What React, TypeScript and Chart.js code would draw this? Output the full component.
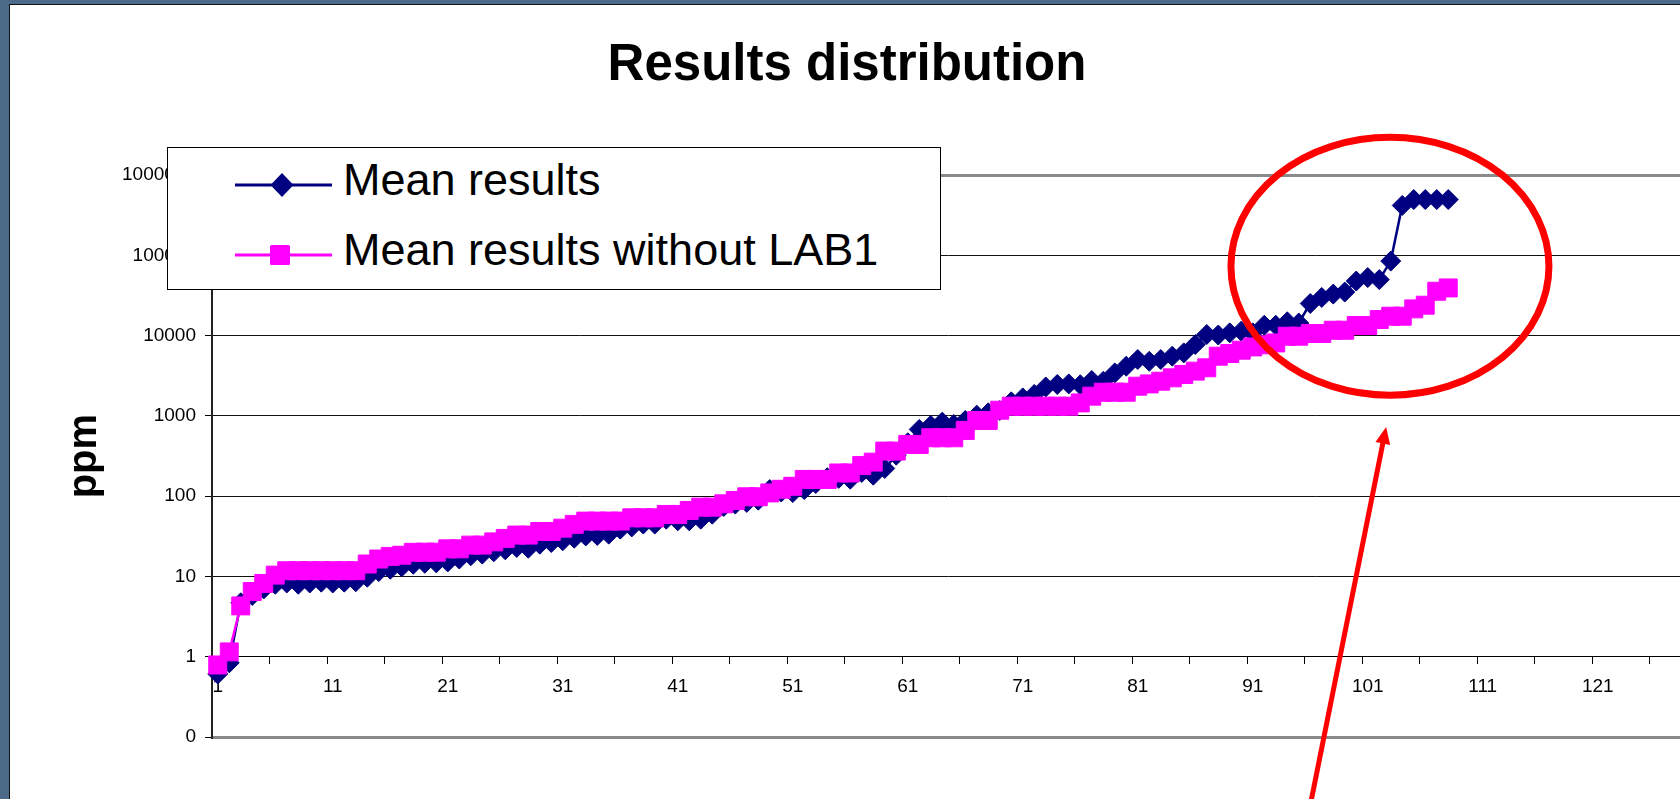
import React, { useEffect, useRef } from "react";
import { Chart, registerables } from "chart.js";

Chart.register(...registerables);

// ---------- data ----------
const categories = [
  1, 2, 3, 4, 5, 6, 7, 8, 9, 10, 11, 12, 13, 14, 15, 16, 17, 18, 19, 20,
  21, 22, 23, 24, 25, 26, 27, 28, 29, 30, 31, 32, 33, 34, 35, 36, 37, 38, 39, 40,
  41, 42, 43, 44, 45, 46, 47, 48, 49, 50, 51, 52, 53, 54, 55, 56, 57, 58, 59, 60,
  61, 62, 63, 64, 65, 66, 67, 68, 69, 70, 71, 72, 73, 74, 75, 76, 77, 78, 79, 80,
  81, 82, 83, 84, 85, 86, 87, 88, 89, 90, 91, 92, 93, 94, 95, 96, 97, 98, 99, 100,
  101, 102, 103, 104, 105, 106, 107, 108, 109, 110, 111, 112, 113, 114, 115, 116,
  117, 118, 119, 120, 121, 122, 123, 124, 125, 126, 127, 128,
];

const meanResults = [
  0.61, 0.84, 4.7, 5.8, 7.0, 8.0, 8.3, 8.0, 8.3, 8.5,
  8.3, 8.5, 8.6, 9.8, 11.5, 12.3, 13.2, 14.2, 14.6, 14.8,
  15.2, 16.5, 18.1, 19.0, 20.3, 21.5, 23.0, 22.5, 25.3, 26.5,
  27.9, 30.0, 32.0, 32.5, 33.7, 38.9, 41.5, 45, 45, 51.8,
  49.4, 49.4, 51.8, 59.8, 74.6, 79.8, 83.8, 89.3, 121, 113,
  111, 121, 144, 170, 167, 163, 198, 183, 222, 325,
  463, 680, 762, 838, 783, 879, 1023, 1094, 1170, 1500,
  1680, 1855, 2300, 2470, 2510, 2450, 2770, 2700, 3440, 4170,
  5050, 4800, 5050, 5560, 6110, 7760, 10350, 10200, 10850, 11400,
  10850, 13500, 13500, 14900, 14400, 25200, 30000, 33000, 35000, 48000,
  53000, 50000, 85000, 420000, 497000, 497000, 497000, 497000,
];

const meanResultsWithoutLab1 = [
  0.79, 1.15, 4.3, 6.5, 8.2, 10.4, 11.8, 11.8, 11.8, 11.8,
  11.8, 11.8, 11.8, 14.3, 16.5, 17.8, 18.4, 20, 20.1, 20.1,
  22.1, 22.1, 24.6, 24.6, 27, 29.8, 32.8, 32.8, 36.4, 36.4,
  40, 44.6, 49, 49, 49, 49, 53.8, 53.8, 53.8, 59.3,
  59.3, 66.5, 73.1, 73.1, 80.4, 88.6, 98.4, 98.4, 110, 122,
  133, 162, 162, 162, 195, 195, 241, 266, 365, 365,
  442, 442, 535, 535, 535, 660, 879, 879, 1180, 1324,
  1324, 1324, 1324, 1324, 1324, 1455, 1766, 1978, 1978, 1978,
  2350, 2510, 2710, 2985, 3290, 3620, 3980, 5560, 6000, 6600,
  7250, 7700, 8130, 9860, 9860, 10650, 10650, 11700, 11700, 13400,
  13400, 15900, 17500, 17500, 21600, 24000, 35800, 39400,
];

const seriesNames = ["Mean results", "Mean results without LAB1"];
const seriesColors = ["#000080", "#FF00FF"];

const yTickValues = [0.1, 1, 10, 100, 1000, 10000, 100000, 1000000];
const yTickLabels = ["0", "1", "10", "100", "1000", "10000", "100000", "1000000"];
const xTickLabels = ["1", "11", "21", "31", "41", "51", "61", "71", "81", "91", "101", "111", "121"];

const chartTitle = "Results distribution";
const yAxisTitle = "ppm";

// annotation anchors in data coordinates (category number, ppm)
const circleCenter = [102.93, 73400];
const arrowTip = [102.6, 731];
const arrowTail = [95.57, 0.00695];

const FONT = '"Liberation Sans", Arial, Helvetica, sans-serif';

const annotationPlugin = {
  id: "redAnnotations",
  afterDraw(chart: any) {
    const { ctx } = chart;
    const x = chart.scales.x;
    const y = chart.scales.y;
    ctx.save();
    ctx.strokeStyle = "#FF0000";
    ctx.fillStyle = "#FF0000";
    // ellipse
    const cx = x.getPixelForValue(circleCenter[0] - 1);
    const cy = y.getPixelForValue(circleCenter[1]);
    ctx.lineWidth = 7;
    ctx.beginPath();
    ctx.ellipse(cx, cy, 159, 129, 0, 0, Math.PI * 2);
    ctx.stroke();
    // arrow
    const tx = x.getPixelForValue(arrowTip[0] - 1);
    const ty = y.getPixelForValue(arrowTip[1]);
    const sx = x.getPixelForValue(arrowTail[0] - 1);
    const sy = y.getPixelForValue(arrowTail[1]);
    const len = Math.hypot(tx - sx, ty - sy);
    const ux = (tx - sx) / len;
    const uy = (ty - sy) / len;
    const headLen = 17;
    const headHalf = 7.5;
    ctx.lineWidth = 5;
    ctx.beginPath();
    ctx.moveTo(sx, sy);
    ctx.lineTo(tx - ux * (headLen - 2), ty - uy * (headLen - 2));
    ctx.stroke();
    const bx = tx - ux * headLen;
    const by = ty - uy * headLen;
    ctx.beginPath();
    ctx.moveTo(tx, ty);
    ctx.lineTo(bx - uy * headHalf, by + ux * headHalf);
    ctx.lineTo(bx + uy * headHalf, by - ux * headHalf);
    ctx.closePath();
    ctx.fill();
    ctx.restore();
  },
};

function LegendMarker({ index }: { index: number }) {
  const color = seriesColors[index];
  return (
    <svg width={97} height={30} style={{ position: "absolute", left: 67, top: index === 0 ? 22 : 92 }}>
      <line x1={0} y1={15} x2={97} y2={15} stroke={color} strokeWidth={3} />
      {index === 0 ? (
        <polygon points="47,3 58.5,15 47,27 35.5,15" fill={color} />
      ) : (
        <rect x={35} y={5} width={20} height={20} rx={1.5} fill={color} />
      )}
    </svg>
  );
}

export default function App() {
  const canvasRef = useRef<HTMLCanvasElement | null>(null);

  useEffect(() => {
    document.body.style.margin = "0";
    const canvas = canvasRef.current;
    if (!canvas) return;
    const chart = new Chart(canvas, {
      type: "line",
      data: {
        labels: categories,
        datasets: [
          {
            label: seriesNames[0],
            data: meanResults,
            borderColor: seriesColors[0],
            backgroundColor: seriesColors[0],
            pointBorderColor: seriesColors[0],
            pointBackgroundColor: seriesColors[0],
            pointStyle: "rectRot",
            pointRadius: 10,
            pointHoverRadius: 10,
            pointBorderWidth: 1,
            borderWidth: 2.5,
            tension: 0,
            fill: false,
            order: 1,
          },
          {
            label: seriesNames[1],
            data: meanResultsWithoutLab1,
            borderColor: seriesColors[1],
            backgroundColor: seriesColors[1],
            pointBorderColor: seriesColors[1],
            pointBackgroundColor: seriesColors[1],
            pointStyle: "rect",
            pointRadius: 12.7,
            pointHoverRadius: 12.7,
            pointBorderWidth: 1,
            borderWidth: 2.5,
            tension: 0,
            fill: false,
            order: 0,
          },
        ],
      },
      options: {
        animation: false,
        responsive: false,
        devicePixelRatio: 1,
        events: [],
        layout: { autoPadding: false, padding: { left: 0, right: 0, top: 0, bottom: 62 } },
        plugins: {
          legend: { display: false },
          tooltip: { enabled: false },
          title: {
            display: true,
            text: chartTitle,
            color: "#000",
            font: { family: FONT, size: 51, weight: "bold" },
            padding: { top: 30, bottom: 79 },
          },
        },
        scales: {
          x: {
            type: "category",
            offset: true,
            position: { y: 1 } as any,
            afterFit: (s: any) => {
              s.paddingLeft = 0;
              s.paddingRight = 0;
            },
            grid: {
              offset: true,
              drawOnChartArea: false,
              drawTicks: true,
              tickLength: 7,
              tickWidth: 1,
              tickColor: (c: any) => (c.index % 5 === 0 ? "#000" : "rgba(0,0,0,0)"),
            },
            border: { display: true, color: "#000", width: 1 },
            ticks: {
              autoSkip: false,
              maxRotation: 0,
              minRotation: 0,
              padding: 12,
              color: "#000",
              font: { family: FONT, size: 19 },
              callback: (_v: any, i: number) => {
                const s = String(categories[i]);
                return xTickLabels.includes(s) ? s : "";
              },
            },
          },
          y: {
            type: "logarithmic",
            min: 0.1,
            max: 1000000,
            afterBuildTicks: (s: any) => {
              s.ticks = yTickValues.map((v) => ({ value: v }));
            },
            afterFit: (s: any) => {
              s.width = 202;
            },
            grid: {
              color: (c: any) =>
                c.tick && (c.tick.value === 0.1 || c.tick.value === 1000000) ? "#8a8a8a" : "#111",
              lineWidth: (c: any) =>
                c.tick && (c.tick.value === 0.1 || c.tick.value === 1000000) ? 3 : 1,
              tickColor: "#000",
              tickWidth: 1,
              tickLength: 7,
              drawTicks: true,
            },
            border: { display: true, color: "#222", width: 2 },
            ticks: {
              padding: 9,
              color: "#000",
              font: { family: FONT, size: 19 },
              callback: (v: any) => {
                const k = yTickValues.indexOf(Number(v));
                return k >= 0 ? yTickLabels[k] : "";
              },
            },
            title: {
              display: true,
              text: yAxisTitle,
              color: "#000",
              font: { family: FONT, size: 40, weight: "bold" },
              padding: { top: 51, bottom: 0 },
            },
          },
        },
      },
      plugins: [annotationPlugin],
    } as any);
    return () => chart.destroy();
  }, []);

  return (
    <div
      style={{
        position: "relative",
        width: 1680,
        height: 799,
        background: "#4b6b88",
        overflow: "hidden",
      }}
    >
      <div
        style={{
          position: "absolute",
          left: 9,
          top: 4,
          width: 1700,
          height: 820,
          background: "#fff",
          borderLeft: "1px solid #111",
          borderTop: "1px solid #111",
        }}
      />
      <canvas
        ref={canvasRef}
        width={1674}
        height={794}
        style={{ position: "absolute", left: 10, top: 5, width: 1674, height: 794 }}
      />
      <div
        style={{
          position: "absolute",
          left: 167,
          top: 147,
          width: 772,
          height: 141,
          border: "1px solid #000",
          background: "#fff",
          fontFamily: FONT,
          color: "#000",
        }}
      >
        {seriesNames.map((name, i) => (
          <React.Fragment key={name}>
            <LegendMarker index={i} />
            <span
              style={{
                position: "absolute",
                left: 175,
                top: i === 0 ? 8.9 : 78.9,
                fontSize: 45,
                lineHeight: "45px",
                whiteSpace: "nowrap",
              }}
            >
              {name}
            </span>
          </React.Fragment>
        ))}
      </div>
    </div>
  );
}
